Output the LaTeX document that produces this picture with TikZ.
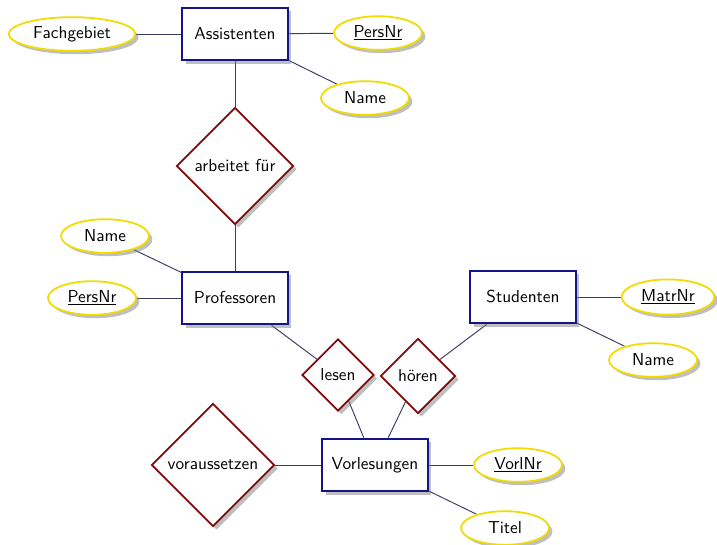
\documentclass[tikz,border=0pt]{standalone}
\usetikzlibrary{shapes.geometric,shadows,backgrounds}
\definecolor{entcol}{RGB}{20,20,140}
\definecolor{relcol}{RGB}{128,10,10}
\definecolor{attcol}{RGB}{240,220,0}
\definecolor{edgecol}{RGB}{60,60,100}
\begin{document}
\begin{tikzpicture}[x=0.625pt,y=-0.625pt,font=\sffamily\fontsize{10.8}{13}\selectfont,
  entity/.style={rectangle,draw=entcol,line width=1.2pt,fill=white,drop shadow,
    minimum width=66pt,minimum height=33pt,inner sep=0pt},
  relation/.style={diamond,aspect=1,draw=relcol,line width=1.1pt,fill=white,drop shadow,inner sep=0pt},
  attribute/.style={ellipse,draw=attcol,line width=1.1pt,fill=white,drop shadow,
    minimum width=55pt,minimum height=21pt,inner sep=0pt},
  link/.style={draw=edgecol,line width=0.6pt}]
\useasboundingbox (0,0) rectangle (717,545);
% entities
\node[entity] (assi) at (235,34) {Assistenten};
\node[entity] (prof) at (235,298) {Professoren};
\node[entity] (stud) at (523,297) {Studenten};
\node[entity] (vorl) at (375,465) {Vorlesungen};
% relationships
\node[relation,minimum size=73pt] (arb) at (235,166) {arbeitet für};
\node[relation,minimum size=45pt] (lesen) at (338,375) {lesen};
\node[relation,minimum size=47pt] (hoeren) at (418,376) {hören};
\node[relation,minimum size=77pt] (vor) at (213,465) {voraussetzen};
% attributes
\node[attribute,minimum width=79pt] (fach) at (72,34) {Fachgebiet};
\node[attribute] (apers) at (378,33) {\underline{PersNr}};
\node[attribute] (aname) at (365,98) {Name};
\node[attribute] (pname) at (105,236) {Name};
\node[attribute] (ppers) at (92,298) {\underline{PersNr}};
\node[attribute,minimum width=58pt,minimum height=22pt] (matr) at (668,297) {\underline{MatrNr}};
\node[attribute] (sname) at (653,360) {Name};
\node[attribute] (vnr) at (518,465) {\underline{VorlNr}};
\node[attribute] (titel) at (505,528) {Titel};
% connectors
\begin{scope}[on background layer]
\draw[link] (assi) -- (fach);
\draw[link] (assi) -- (apers);
\draw[link] (assi) -- (aname);
\draw[link] (assi) -- (arb);
\draw[link] (arb) -- (prof);
\draw[link] (prof) -- (pname);
\draw[link] (prof) -- (ppers);
\draw[link] (prof) -- (lesen);
\draw[link] (stud) -- (hoeren);
\draw[link] (stud) -- (matr);
\draw[link] (stud) -- (sname);
\draw[link] (lesen) -- (vorl);
\draw[link] (hoeren) -- (vorl);
\draw[link] (vor.east) -- (vorl.west);
\draw[link] (vor.east) -- (vorl.west);
\draw[link] (vorl) -- (vnr);
\draw[link] (vorl) -- (titel);
\end{scope}
\end{tikzpicture}
\end{document}
